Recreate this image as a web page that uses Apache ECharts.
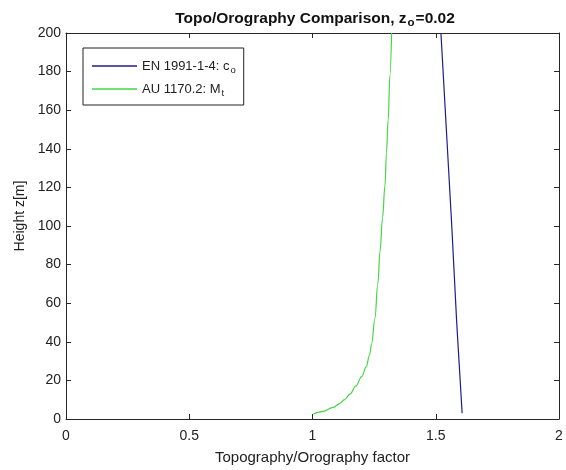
<!DOCTYPE html>
<html>
<head>
<meta charset="utf-8">
<script src="https://cdn.jsdelivr.net/npm/echarts@6/dist/echarts.min.js"></script>
<style>
html,body{margin:0;padding:0;background:#fff;}
#chart{width:566px;height:470px;}
</style>
</head>
<body>
<div id="chart"></div>
<script>
// ---- data ----
const enHeights = [3, 50, 100, 150, 200];
const enFactor  = [1.607, 1.585, 1.565, 1.543, 1.521];

const auHeights = [2.6, 4, 6, 8, 10, 13, 17, 22, 27, 33, 39, 52, 70, 87, 104, 121, 138, 155, 178, 200];
const auFactor  = [1.003, 1.045, 1.084, 1.110, 1.130, 1.153, 1.175, 1.200, 1.218, 1.231, 1.240, 1.253, 1.265, 1.274, 1.284, 1.294, 1.300, 1.307, 1.314, 1.321];

const xTicks = [0, 0.5, 1, 1.5, 2];
const yTicks = [0, 20, 40, 60, 80, 100, 120, 140, 160, 180, 200];

const seriesNames = ['EN 1991-1-4: c_o', 'AU 1170.2: M_t'];
// ---------------------------------------

const pairs = (xs, ys) => xs.map((x, i) => [x, ys[i]]);
const FONT = 'Liberation Sans, Arial, sans-serif';
const AX = '#262626';

const chart = echarts.init(document.getElementById('chart'), null, {renderer: 'canvas'});

const baseX = {
  type: 'value', min: xTicks[0], max: xTicks[xTicks.length - 1], interval: 0.5,
  axisLine: {show: true, onZero: false, lineStyle: {color: AX, width: 1}},
  axisTick: {show: true, inside: true, length: 5, lineStyle: {color: AX}},
  splitLine: {show: false}
};
const baseY = {
  type: 'value', min: yTicks[0], max: yTicks[yTicks.length - 1], interval: 20,
  axisLine: {show: true, onZero: false, lineStyle: {color: AX, width: 1}},
  axisTick: {show: true, inside: true, length: 5, lineStyle: {color: AX}},
  splitLine: {show: false}
};

const legendRich = {
  t: {fontFamily: FONT, fontSize: 13, color: '#222', lineHeight: 18, verticalAlign: 'middle'},
  s: {fontFamily: FONT, fontSize: 9.5, color: '#222', lineHeight: 18, verticalAlign: 'bottom', padding: [8, 0, 0, 1]}
};

chart.setOption({
  animation: false,
  backgroundColor: '#fff',
  title: {
    text: '{a|Topo/Orography Comparison, z}{b|o}{a|=0.02}',
    left: 310, textAlign: 'center', top: 4,
    textStyle: {
      rich: {
        a: {fontFamily: FONT, fontSize: 15.5, fontWeight: 'bold', color: '#111', lineHeight: 20, verticalAlign: 'middle'},
        b: {fontFamily: FONT, fontSize: 11.5, fontWeight: 'bold', color: '#111', lineHeight: 20, verticalAlign: 'bottom', padding: [10, 1, 0, 1]}
      }
    }
  },
  grid: {left: 66, right: 7, top: 33, bottom: 48, containLabel: false},
  legend: {
    orient: 'vertical', left: 83, top: 48,
    padding: [9, 8, 7, 9], itemGap: 5,
    borderColor: '#222', borderWidth: 1, backgroundColor: '#fff',
    icon: 'rect', itemWidth: 45, itemHeight: 1.3,
    data: seriesNames,
    formatter: function (name) {
      const p = name.split('_');
      return '{t|' + p[0] + '}{s|' + p[1] + '}';
    },
    textStyle: {rich: legendRich}
  },
  xAxis: [
    Object.assign({}, baseX, {
      position: 'bottom',
      name: 'Topography/Orography factor', nameLocation: 'middle', nameGap: 31,
      nameTextStyle: {fontFamily: FONT, fontSize: 15, color: '#222'},
      axisLabel: {show: true, margin: 10, fontFamily: FONT, fontSize: 14, color: '#222',
        formatter: v => String(v)}
    }),
    Object.assign({}, baseX, {position: 'top', axisLabel: {show: false}})
  ],
  yAxis: [
    Object.assign({}, baseY, {
      position: 'left',
      name: 'Height z[m]', nameLocation: 'middle', nameGap: 34, nameRotate: 90,
      nameTextStyle: {fontFamily: FONT, fontSize: 14, color: '#222', padding: [0, 0, 0, 20]},
      axisLabel: {show: true, margin: 5, fontFamily: FONT, fontSize: 14, color: '#222'}
    }),
    Object.assign({}, baseY, {position: 'right', axisLabel: {show: false}})
  ],
  series: [
    {
      name: seriesNames[0], type: 'line', xAxisIndex: 0, yAxisIndex: 0,
      data: pairs(enFactor, enHeights), symbol: 'none', showSymbol: false,
      lineStyle: {color: '#1c1c8e', width: 1.2}, itemStyle: {color: '#1c1c8e'}
    },
    {
      name: seriesNames[1], type: 'line', xAxisIndex: 0, yAxisIndex: 0,
      data: pairs(auFactor, auHeights), symbol: 'none', showSymbol: false,
      smooth: 0.4, smoothMonotone: 'x',
      lineStyle: {color: '#45d645', width: 1.2}, itemStyle: {color: '#45d645'}
    }
  ]
});
</script>
</body>
</html>
